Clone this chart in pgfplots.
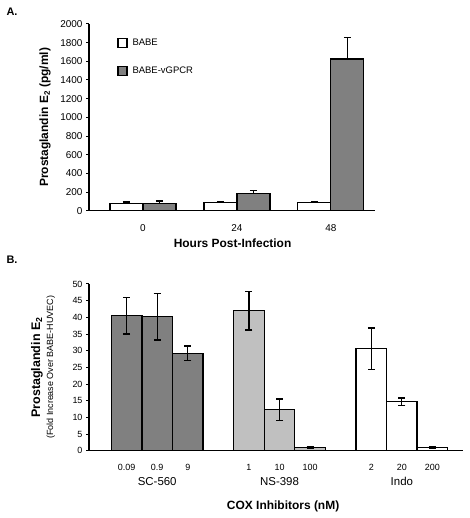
\documentclass[border=0pt]{standalone}
\usepackage{pgfplots}
\pgfplotsset{compat=1.18}
\usepackage{fontspec}
\setmainfont{Liberation Sans}
\definecolor{dgray}{RGB}{128,128,128}
\definecolor{lgray}{RGB}{192,192,192}
\pgfplotsset{
  commonstyle/.style={
    scale only axis,
    axis x line*=bottom, axis y line*=left,
    axis line style={line width=1.3bp, black},
    tick align=outside, major tick length=3bp,
    ytick style={line width=1bp, black},
    xtick style={draw=none},
    /pgf/number format/assume math mode=true,
    /pgf/number format/1000 sep={},
    ymin=0,
    ybar,
    every axis plot/.append style={draw=black, line width=1.3bp},
    error bars/error bar style={line width=1.3bp, black},
    error bars/error mark options={rotate=90, mark size=3.5bp, line width=1.3bp, black},
  }
}
\begin{document}
\begin{tikzpicture}[x=1bp,y=1bp]
\path[use as bounding box] (0,0) rectangle (470,518);
\node[anchor=west, font=\bfseries\fontsize{11}{12}\selectfont] at (3,506) {A.};
\node[anchor=west, font=\bfseries\fontsize{11}{12}\selectfont] at (3,258) {B.};

% ---------------- Panel A ----------------
\begin{axis}[commonstyle,
  at={(89bp,307.3bp)}, anchor=south west,
  width=286bp, height=186.7bp,
  xmin=-0.574, xmax=2.47, ymax=2000,
  ytick={0,200,...,2000},
  xtick={0,1,2}, xticklabels={0,24,48},
  ticklabel style={font=\fontsize{10}{11}\selectfont},
  xticklabel style={yshift=-7bp},
  bar width=33bp,
  xlabel={\textbf{Hours Post-Infection}},
  xlabel style={at={(axis description cs:0.502,0)}, anchor=center, yshift=-32.3bp, font=\fontsize{12}{13}\selectfont},
  ylabel={\textbf{Prostaglandin E\textsubscript{2} (pg/ml)}},
  ylabel style={at={(axis description cs:-0.154,0.5)}, anchor=center, font=\fontsize{12}{13}\selectfont},
  legend image code/.code={\draw[#1, line width=1.3bp] (0bp,-4.5bp) rectangle (9bp,4.5bp);},
  legend style={at={(axis description cs:0.098,0.93)}, anchor=north west, draw=none, fill=none,
    inner sep=0pt, row sep=16bp, column sep=3bp, font=\fontsize{9.5}{10}\selectfont, legend cell align=left},
]
\addplot[fill=white, bar shift=-16.5bp, error bars/.cd, y dir=plus, y explicit]
  coordinates {(0,78) +- (0,16) (1,90) +- (0,7) (2,88) +- (0,8)};
\addplot[fill=dgray, bar shift=16.5bp, error bars/.cd, y dir=plus, y explicit]
  coordinates {(0,78) +- (0,26) (1,186) +- (0,28) (2,1625) +- (0,228)};
\legend{BABE, BABE-vGPCR}
\end{axis}

% ---------------- Panel B ----------------
\begin{axis}[commonstyle,
  at={(89bp,67.3bp)}, anchor=south west,
  width=374bp, height=166.7bp,
  xmin=-1.23, xmax=11.0, ymax=50,
  ytick={0,5,...,50},
  xtick={0,1,2,4,5,6,8,9,10},
  xticklabels={0.09,0.9,9,1,10,100,2,20,200},
  ticklabel style={font=\fontsize{9}{10}\selectfont},
  xticklabel style={yshift=-7.5bp},
  bar width=30.6bp, bar shift=0bp,
  xlabel={\textbf{COX Inhibitors (nM)}},
  xlabel style={at={(axis description cs:0.519,0)}, anchor=center, yshift=-56bp, font=\fontsize{12}{13}\selectfont},
  ylabel={\textbf{\fontsize{12.5}{13}\selectfont Prostaglandin E\textsubscript{2}}\\[1bp]{\fontsize{9}{10}\selectfont (Fold Increase Over BABE-HUVEC)}},
  ylabel style={at={(axis description cs:-0.123,0.5)}, anchor=center, align=center},
]
\addplot[fill=dgray, error bars/.cd, y dir=both, y explicit]
  coordinates {(0,40.5) +- (0,5.5) (1,40.2) +- (0,7.0) (2,29.2) +- (0,2.2)};
\addplot[fill=lgray, error bars/.cd, y dir=both, y explicit]
  coordinates {(4,42.0) +- (0,5.8) (5,12.3) +- (0,3.2) (6,0.9) +- (0,0.2)};
\addplot[fill=white, error bars/.cd, y dir=both, y explicit]
  coordinates {(8,30.6) +- (0,6.2) (9,14.7) +- (0,1.1) (10,0.9) +- (0,0.2)};
\coordinate (g1) at (axis cs:1,0);
\coordinate (g2) at (axis cs:5,0);
\coordinate (g3) at (axis cs:9,0);
\end{axis}
\node[font=\fontsize{11.5}{12}\selectfont, text=black] at ([yshift=-30.4bp]g1) {SC-560};
\node[font=\fontsize{11.5}{12}\selectfont, text=black] at ([yshift=-30.4bp]g2) {NS-398};
\node[font=\fontsize{11.5}{12}\selectfont, text=black] at ([yshift=-30.4bp]g3) {Indo};
\end{tikzpicture}
\end{document}
